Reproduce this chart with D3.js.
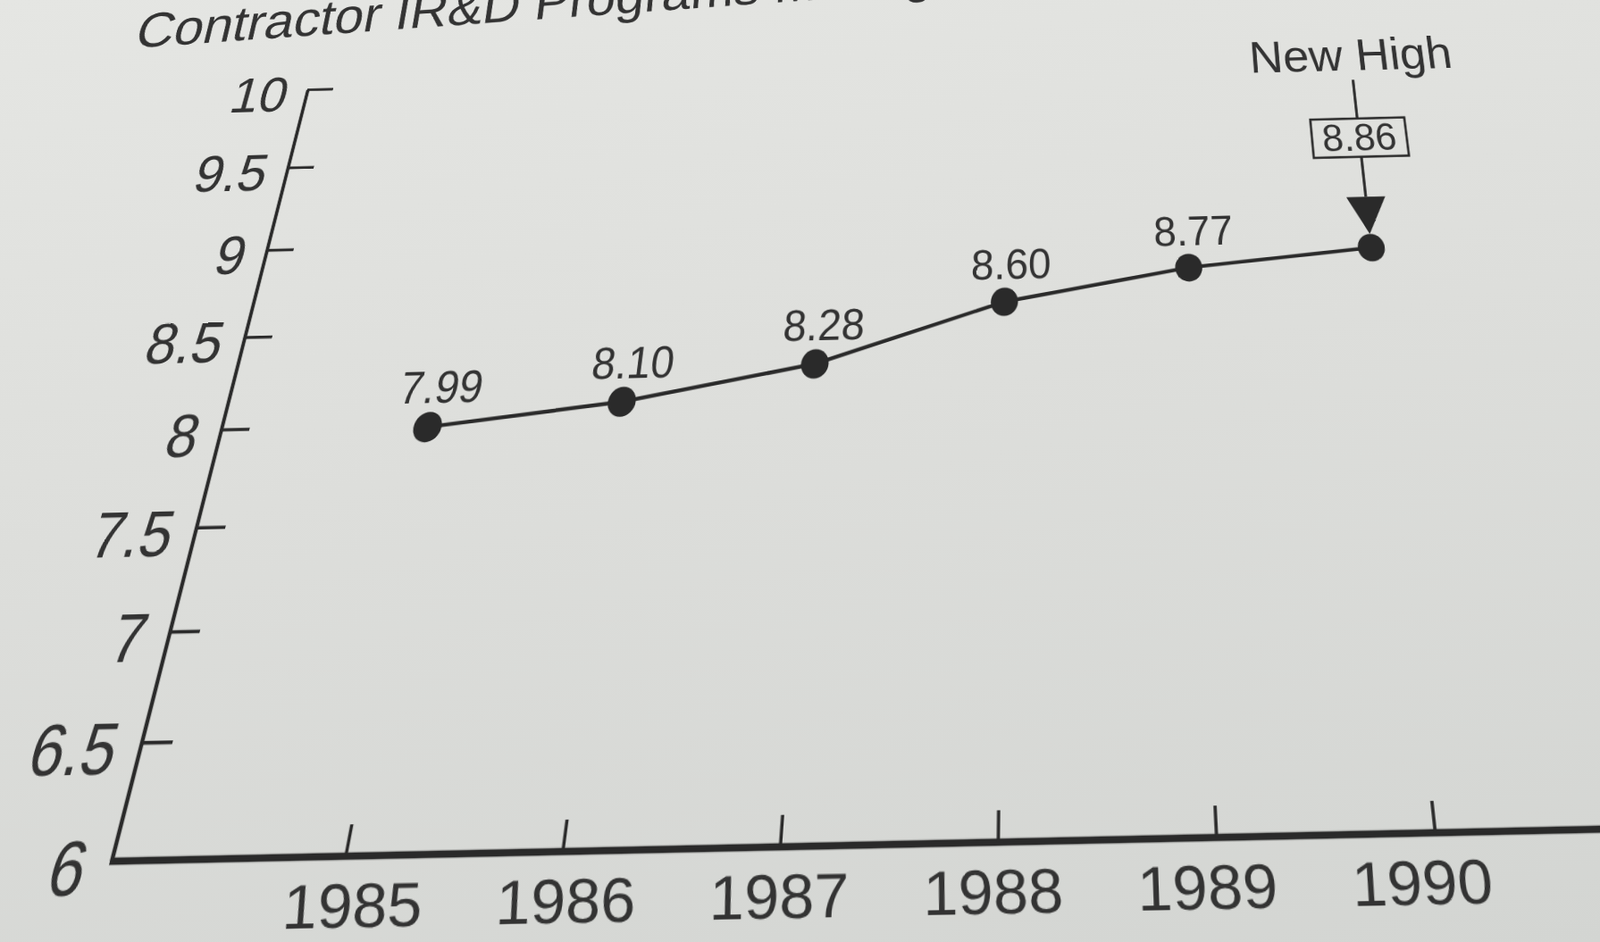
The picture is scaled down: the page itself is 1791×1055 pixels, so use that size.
<!DOCTYPE html>
<html lang="en">

<head>
    <meta charset="UTF-8">
    <title>Contractor IR&amp;D Programs</title>
    <script src="https://d3js.org/d3.v7.min.js"></script>
    <style>
        body,
        html {
            margin: 0;
            width: 1791px;
            height: 1055px;
            overflow: hidden;
        }

        body {
            background: linear-gradient(170deg, #e5e6e3 0%, #dddedb 45%, #d3d5d2 100%);
        }

        #chart {
            position: absolute;
            left: 0;
            top: 0;
            overflow: visible;
            transform-origin: 0 0;
        }

        text {
            font-family: "Liberation Sans", Arial, sans-serif;
            fill: #333;
        }
    </style>
</head>

<body>
    <svg id="chart" width="2200" height="1200"></svg>

    <script>
        // data
        var years = [1985, 1986, 1987, 1988, 1989, 1990];
        var values = [7.99, 8.10, 8.28, 8.60, 8.77, 8.86];
        var valueLabels = ["7.99", "8.10", "8.28", "8.60", "8.77", "8.86"];
        var yTicks = [6, 6.5, 7, 7.5, 8, 8.5, 9, 9.5, 10];
        var yTickLabels = ["6", "6.5", "7", "7.5", "8", "8.5", "9", "9.5", "10"];
        var titleText = "Contractor IR&D Programs Managed by Air Force";
        var noteText = "New High";

        // where some chart positions sit in the photo (camera fit), w = weight
        var photoFit = [
            { year: null, value: 6, px: 127, py: 969, w: 2 },
            { year: null, value: 6.5, px: 160, py: 832, w: 2 },
            { year: null, value: 7, px: 188, py: 702, w: 2 },
            { year: null, value: 7.5, px: 217, py: 586, w: 2 },
            { year: null, value: 8, px: 248, py: 477, w: 2 },
            { year: null, value: 8.5, px: 277, py: 374, w: 2 },
            { year: null, value: 9, px: 298, py: 282, w: 2 },
            { year: null, value: 9.5, px: 322, py: 188, w: 2 },
            { year: null, value: 10, px: 340, py: 112, w: 2 },
            { year: 1985, value: 6, px: 394, py: 963, w: 1 },
            { year: 1986, value: 6, px: 640, py: 962, w: 1 },
            { year: 1987, value: 6, px: 883, py: 960, w: 1 },
            { year: 1988, value: 6, px: 1117, py: 956, w: 1 },
            { year: 1989, value: 6, px: 1351, py: 947, w: 1 },
            { year: 1990, value: 6, px: 1576, py: 935, w: 1 },
            { year: 1985, value: 7.99, px: 475, py: 470, w: 1 },
            { year: 1986, value: 8.10, px: 699, py: 451, w: 1 },
            { year: 1987, value: 8.28, px: 930, py: 395, w: 1 },
            { year: 1988, value: 8.60, px: 1135, py: 340, w: 1 },
            { year: 1989, value: 8.77, px: 1340, py: 291, w: 1 },
            { year: 1990, value: 8.86, px: 1537, py: 267, w: 1 }
        ];

        var ink = "#2a2a2a";

        // flat chart scales
        var x = d3.scaleLinear().domain([1983.92, 1990]).range([360, 1770]);
        var y = d3.scaleLinear().domain([6, 10]).range([960, 110]);

        var svg = d3.select("#chart");

        // title (mostly cut off at the top of the photo)
        svg.append("text")
            .attr("transform", "translate(102,44) rotate(-2.8)")
            .attr("font-size", 72)
            .text(titleText);

        // y axis
        var yAxis = svg.append("g").attr("transform", `translate(${x.range()[0]},0)`);
        yAxis.append("line")
            .attr("y1", y(6)).attr("y2", y(10))
            .attr("stroke", ink).attr("stroke-width", 4.5);
        var yt = yAxis.selectAll(".yt").data(yTicks).enter().append("g")
            .attr("transform", d => `translate(0,${y(d)})`);
        yt.filter(d => d > 6).append("line")
            .attr("x1", -1).attr("x2", 34)
            .attr("stroke", ink).attr("stroke-width", 3.5);
        yt.append("text")
            .attr("x", -26).attr("dy", "0.42em")
            .attr("text-anchor", "end")
            .attr("font-size", 68)
            .text((d, i) => yTickLabels[i]);

        // x axis
        var xAxis = svg.append("g").attr("transform", `translate(0,${y(6)})`);
        xAxis.append("line")
            .attr("x1", x.range()[0] - 2).attr("x2", x(1991.6))
            .attr("stroke", ink).attr("stroke-width", 6.5);
        var xt = xAxis.selectAll(".xt").data(years).enter().append("g")
            .attr("transform", d => `translate(${x(d)},0)`);
        xt.append("line")
            .attr("y1", 0).attr("y2", -28)
            .attr("stroke", ink).attr("stroke-width", 3.5);
        // labels stand upright in the photo, so undo some of the lean
        xt.append("text")
            .attr("transform", (d, i) => `translate(${20 - 8 * i},61) skewX(${9 - 2.2 * i}) scale(1.18,0.95)`)
            .attr("text-anchor", "middle")
            .attr("font-size", 56)
            .text(d => d);

        // series
        var pts = years.map((d, i) => ({ year: d, value: values[i], label: valueLabels[i] }));
        svg.append("path")
            .datum(pts)
            .attr("fill", "none")
            .attr("stroke", ink)
            .attr("stroke-width", 4.5)
            .attr("d", d3.line().x(d => x(d.year)).y(d => y(d.value)));
        svg.selectAll(".dot").data(pts).enter().append("circle")
            .attr("cx", d => x(d.year)).attr("cy", d => y(d.value))
            .attr("r", 17).attr("fill", ink);
        svg.selectAll(".vl").data(pts.slice(0, -1)).enter().append("text")
            .attr("x", d => x(d.year) + 8).attr("y", d => y(d.value) - 27)
            .attr("text-anchor", "middle")
            .attr("font-size", 52)
            .text(d => d.label);

        // "New High" callout on the last point
        var last = pts[pts.length - 1];
        var note = svg.append("g").attr("transform", `translate(${x(last.year)},${y(last.value) - 17})`);
        note.append("path")
            .attr("d", "M0,0 L-25,-47 L25,-47 Z")
            .attr("fill", ink);
        note.append("line")
            .attr("y1", -47).attr("y2", -99)
            .attr("stroke", ink).attr("stroke-width", 3.5);
        note.append("rect")
            .attr("x", -62).attr("y", -150).attr("width", 124).attr("height", 51)
            .attr("fill", "none").attr("stroke", ink).attr("stroke-width", 3);
        note.append("text")
            .attr("y", -107).attr("text-anchor", "middle")
            .attr("font-size", 50)
            .text(last.label);
        note.append("line")
            .attr("y1", -150).attr("y2", -203)
            .attr("stroke", ink).attr("stroke-width", 3.5);
        note.append("text")
            .attr("x", 0).attr("y", -216).attr("text-anchor", "middle")
            .attr("font-size", 63)
            .text(noteText);

        // weighted least-squares homography from the flat chart to the photo
        function fitHomography(pairs) {
            var s = 1000;
            var M = d3.range(8).map(() => new Array(9).fill(0));
            pairs.forEach(p => {
                var u = p[0] / s, v = p[1] / s, X = p[2] / s, Y = p[3] / s, w = p[4] * p[4];
                var rows = [[u, v, 1, 0, 0, 0, -X * u, -X * v, X],
                [0, 0, 0, u, v, 1, -Y * u, -Y * v, Y]];
                rows.forEach(r => {
                    for (var i = 0; i < 8; i++)
                        for (var j = 0; j < 9; j++) M[i][j] += w * r[i] * r[j];
                });
            });
            for (var c = 0; c < 8; c++) {
                var piv = c;
                for (var r = c + 1; r < 8; r++) if (Math.abs(M[r][c]) > Math.abs(M[piv][c])) piv = r;
                var tmp = M[c]; M[c] = M[piv]; M[piv] = tmp;
                for (var r2 = 0; r2 < 8; r2++) {
                    if (r2 === c) continue;
                    var f = M[r2][c] / M[c][c];
                    for (var j2 = c; j2 < 9; j2++) M[r2][j2] -= f * M[c][j2];
                }
            }
            var h = M.map((row, i) => row[8] / row[i]);
            return [[h[0], h[1], h[2] * s], [h[3], h[4], h[5] * s], [h[6] / s, h[7] / s, 1]];
        }

        var H = fitHomography(photoFit.map(p => [
            p.year === null ? x.range()[0] : x(p.year), y(p.value), p.px, p.py, p.w
        ]));
        var m3d = [H[0][0], H[1][0], 0, H[2][0], H[0][1], H[1][1], 0, H[2][1],
            0, 0, 1, 0, H[0][2], H[1][2], 0, H[2][2]];
        d3.select("#chart").style("transform", `matrix3d(${m3d.join(",")})`);
    </script>
</body>

</html>
